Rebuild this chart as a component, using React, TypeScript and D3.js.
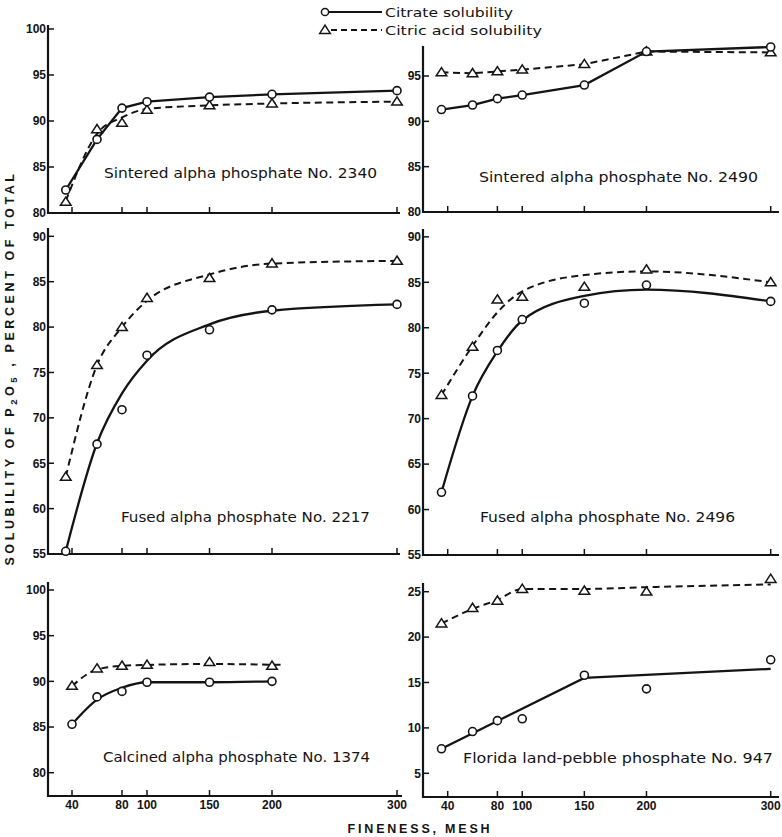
import React from "react";
import * as d3 from "d3";

// ---------- DATA ----------
const MESH = [35, 60, 80, 100, 150, 200, 300];
const MESH_CALCINED = [40, 60, 80, 100, 150, 200];
const MESH_CALCINED_FIT = [40, 60, 80, 100, 150, 210];
const X_TICKS = [40, 80, 100, 150, 200, 300];

// Sintered alpha phosphate No. 2340
const s2340Citrate = [82.5, 88.0, 91.4, 92.1, 92.6, 92.9, 93.3];
const s2340Citric = [81.2, 89.1, 89.8, 91.2, 91.7, 91.9, 92.1];
const s2340CitricFit = [81.3, 88.6, 90.4, 91.3, 91.7, 91.9, 92.1];

// Sintered alpha phosphate No. 2490
const s2490Citrate = [91.3, 91.8, 92.5, 92.9, 94.0, 97.7, 98.2];
const s2490Citric = [95.4, 95.3, 95.5, 95.7, 96.3, 97.7, 97.6];

// Fused alpha phosphate No. 2217
const f2217Citrate = [55.3, 67.1, 70.9, 76.9, 79.7, 81.9, 82.5];
const f2217CitrateFit = [55.3, 67.2, 72.7, 76.3, 80.3, 81.8, 82.5];
const f2217Citric = [63.5, 75.8, 80.0, 83.2, 85.4, 87.0, 87.3];
const f2217CitricFit = [63.5, 75.8, 80.0, 82.9, 85.8, 87.0, 87.3];

// Fused alpha phosphate No. 2496
const f2496Citrate = [61.9, 72.5, 77.5, 80.9, 82.7, 84.7, 82.9];
const f2496CitrateFit = [61.9, 72.5, 77.4, 80.8, 83.5, 84.2, 82.9];
const f2496Citric = [72.6, 77.9, 83.1, 83.4, 84.5, 86.4, 85.0];
const f2496CitricFit = [72.6, 78.0, 81.7, 84.0, 85.8, 86.2, 85.0];

// Calcined alpha phosphate No. 1374
const c1374Citrate = [85.3, 88.3, 88.9, 89.9, 89.9, 90.0];
const c1374CitrateFit = [85.3, 88.0, 89.3, 89.9, 89.9, 90.0];
const c1374Citric = [89.5, 91.4, 91.7, 91.8, 92.1, 91.7];
const c1374CitricFit = [89.5, 91.3, 91.7, 91.8, 91.9, 91.8];

// Florida land-pebble phosphate No. 947
const fl947Citrate = [7.7, 9.6, 10.8, 11.0, 15.8, 14.3, 17.5];
const fl947CitrateFitMesh = [35, 150, 300];
const fl947CitrateFit = [7.7, 15.5, 16.5];
const fl947Citric = [21.5, 23.2, 24.0, 25.3, 25.1, 25.0, 26.4];
const fl947CitricFit = [21.5, 23.1, 24.1, 25.3, 25.3, 25.5, 25.8];

// ---------- LAYOUT ----------
type Series = { mesh: number[]; vals: number[] };
type Panel = {
  label: string;
  labelX: number;
  labelY: number;
  labelW: number;
  axisX: number;
  xEnd: number;
  yTop: number;
  yBottom: number;
  xRange: [number, number];
  yDomain: [number, number];
  yRange: [number, number];
  yTicks: number[];
  showXLabels: boolean;
  citratePts: Series;
  citrateLine: Series;
  citrateCurve: d3.CurveFactory;
  citricPts: Series;
  citricLine: Series;
  citricCurve: d3.CurveFactory;
};

const LEFT_X: [number, number] = [72, 397];
const RIGHT_X: [number, number] = [447.7, 770.7];

const panels: Panel[] = [
  {
    label: "Sintered alpha phosphate No. 2340",
    labelX: 104, labelY: 178, labelW: 273,
    axisX: 48, xEnd: 400, yTop: 25, yBottom: 213,
    xRange: LEFT_X, yDomain: [80, 100], yRange: [213, 29],
    yTicks: [80, 85, 90, 95, 100], showXLabels: false,
    citratePts: { mesh: MESH, vals: s2340Citrate },
    citrateLine: { mesh: MESH, vals: s2340Citrate },
    citrateCurve: d3.curveLinear,
    citricPts: { mesh: MESH, vals: s2340Citric },
    citricLine: { mesh: MESH, vals: s2340CitricFit },
    citricCurve: d3.curveMonotoneX,
  },
  {
    label: "Sintered alpha phosphate No. 2490",
    labelX: 479, labelY: 182, labelW: 279,
    axisX: 423, xEnd: 779, yTop: 46, yBottom: 212,
    xRange: RIGHT_X, yDomain: [80, 95], yRange: [212, 76],
    yTicks: [80, 85, 90, 95], showXLabels: false,
    citratePts: { mesh: MESH, vals: s2490Citrate },
    citrateLine: { mesh: MESH, vals: s2490Citrate },
    citrateCurve: d3.curveLinear,
    citricPts: { mesh: MESH, vals: s2490Citric },
    citricLine: { mesh: MESH, vals: s2490Citric },
    citricCurve: d3.curveLinear,
  },
  {
    label: "Fused alpha phosphate No. 2217",
    labelX: 121, labelY: 522, labelW: 249,
    axisX: 48, xEnd: 400, yTop: 228, yBottom: 554,
    xRange: LEFT_X, yDomain: [55, 85], yRange: [554, 281.7],
    yTicks: [55, 60, 65, 70, 75, 80, 85, 90], showXLabels: false,
    citratePts: { mesh: MESH, vals: f2217Citrate },
    citrateLine: { mesh: MESH, vals: f2217CitrateFit },
    citrateCurve: d3.curveMonotoneX,
    citricPts: { mesh: MESH, vals: f2217Citric },
    citricLine: { mesh: MESH, vals: f2217CitricFit },
    citricCurve: d3.curveMonotoneX,
  },
  {
    label: "Fused alpha phosphate No. 2496",
    labelX: 480, labelY: 522, labelW: 255,
    axisX: 423, xEnd: 779, yTop: 229, yBottom: 555,
    xRange: RIGHT_X, yDomain: [55, 85], yRange: [555, 282.3],
    yTicks: [55, 60, 65, 70, 75, 80, 85, 90], showXLabels: false,
    citratePts: { mesh: MESH, vals: f2496Citrate },
    citrateLine: { mesh: MESH, vals: f2496CitrateFit },
    citrateCurve: d3.curveMonotoneX,
    citricPts: { mesh: MESH, vals: f2496Citric },
    citricLine: { mesh: MESH, vals: f2496CitricFit },
    citricCurve: d3.curveMonotoneX,
  },
  {
    label: "Calcined alpha phosphate No. 1374",
    labelX: 103, labelY: 762, labelW: 267,
    axisX: 48, xEnd: 402, yTop: 582, yBottom: 796,
    xRange: LEFT_X, yDomain: [80, 100], yRange: [772.7, 590],
    yTicks: [80, 85, 90, 95, 100], showXLabels: true,
    citratePts: { mesh: MESH_CALCINED, vals: c1374Citrate },
    citrateLine: { mesh: MESH_CALCINED, vals: c1374CitrateFit },
    citrateCurve: d3.curveMonotoneX,
    citricPts: { mesh: MESH_CALCINED, vals: c1374Citric },
    citricLine: { mesh: MESH_CALCINED_FIT, vals: c1374CitricFit },
    citricCurve: d3.curveMonotoneX,
  },
  {
    label: "Florida land-pebble phosphate No. 947",
    labelX: 463, labelY: 763, labelW: 310,
    axisX: 423, xEnd: 779, yTop: 583, yBottom: 797,
    xRange: RIGHT_X, yDomain: [5, 25], yRange: [773.3, 591.7],
    yTicks: [5, 10, 15, 20, 25], showXLabels: true,
    citratePts: { mesh: MESH, vals: fl947Citrate },
    citrateLine: { mesh: fl947CitrateFitMesh, vals: fl947CitrateFit },
    citrateCurve: d3.curveLinear,
    citricPts: { mesh: MESH, vals: fl947Citric },
    citricLine: { mesh: MESH, vals: fl947CitricFit },
    citricCurve: d3.curveMonotoneX,
  },
];

const INK = "#141414";
const TICK_FONT = "'Liberation Sans', Arial, sans-serif";
const LABEL_FONT = "'DejaVu Sans', 'Open Sans', sans-serif";

const triPath = "M0,-4.8L5.3,3.4L-5.3,3.4Z";

function PanelView({ p }: { p: Panel }) {
  const x = d3.scaleLinear().domain([40, 300]).range(p.xRange);
  const y = d3.scaleLinear().domain(p.yDomain).range(p.yRange);
  const mk = (s: Series, curve: d3.CurveFactory) =>
    d3
      .line<number>()
      .x((_, i) => x(s.mesh[i]))
      .y((v) => y(v))
      .curve(curve)(s.vals) || "";

  return (
    <g>
      {/* axes */}
      <line x1={p.axisX} x2={p.axisX} y1={p.yTop} y2={p.yBottom + 1} stroke={INK} strokeWidth={2.2} />
      <line x1={p.axisX - 1} x2={p.xEnd} y1={p.yBottom} y2={p.yBottom} stroke={INK} strokeWidth={2.2} />
      {p.yTicks.map((t) => (
        <g key={"y" + t}>
          {y(t) < p.yBottom - 2 && (
            <line x1={p.axisX} x2={p.axisX + 6} y1={y(t)} y2={y(t)} stroke={INK} strokeWidth={1.5} />
          )}
          <text
            x={p.axisX - 2}
            y={y(t)}
            dy="0.36em"
            textAnchor="end"
            fontFamily={TICK_FONT}
            fontWeight="bold"
            fontSize={12}
            fill={INK}
          >
            {t}
          </text>
        </g>
      ))}
      {X_TICKS.map((t) => (
        <g key={"x" + t}>
          <line x1={x(t)} x2={x(t)} y1={p.yBottom} y2={p.yBottom - 6} stroke={INK} strokeWidth={1.5} />
          {p.showXLabels && (
            <text
              x={x(t)}
              y={p.yBottom + 12.5}
              textAnchor="middle"
              fontFamily={TICK_FONT}
              fontWeight="bold"
              fontSize={12}
              fill={INK}
            >
              {t}
            </text>
          )}
        </g>
      ))}
      {/* lines */}
      <path d={mk(p.citricLine, p.citricCurve)} fill="none" stroke={INK} strokeWidth={2} strokeDasharray="7,4.5" />
      <path d={mk(p.citrateLine, p.citrateCurve)} fill="none" stroke={INK} strokeWidth={2.3} />
      {/* markers */}
      {p.citricPts.vals.map((v, i) => (
        <path
          key={"t" + i}
          d={triPath}
          transform={`translate(${x(p.citricPts.mesh[i])},${y(v)})`}
          fill="white"
          stroke={INK}
          strokeWidth={1.5}
        />
      ))}
      {p.citratePts.vals.map((v, i) => (
        <circle key={"c" + i} cx={x(p.citratePts.mesh[i])} cy={y(v)} r={4} fill="white" stroke={INK} strokeWidth={1.6} />
      ))}
      <text
        x={p.labelX}
        y={p.labelY}
        fontFamily={LABEL_FONT}
        fontSize={14}
        fill={INK}
        textLength={p.labelW}
        lengthAdjust="spacingAndGlyphs"
      >
        {p.label}
      </text>
    </g>
  );
}

export default function App() {
  return (
    <svg
      width={782}
      height={837}
      viewBox="0 0 782 837"
      style={{ position: "absolute", left: 0, top: 0, background: "white" }}
    >
      <rect width={782} height={837} fill="white" />
      {/* legend */}
      <g>
        <line x1={329} x2={382} y1={12} y2={12} stroke={INK} strokeWidth={2} />
        <circle cx={325} cy={12} r={3.6} fill="white" stroke={INK} strokeWidth={1.5} />
        <text x={385} y={16.5} fontFamily={LABEL_FONT} fontSize={13} fill={INK} textLength={128} lengthAdjust="spacingAndGlyphs">
          Citrate solubility
        </text>
        <line x1={331} x2={382} y1={30} y2={30} stroke={INK} strokeWidth={2} strokeDasharray="6,4" />
        <path d={triPath} transform="translate(325,30)" fill="white" stroke={INK} strokeWidth={1.5} />
        <text x={385} y={35} fontFamily={LABEL_FONT} fontSize={13} fill={INK} textLength={157} lengthAdjust="spacingAndGlyphs">
          Citric acid solubility
        </text>
      </g>
      {panels.map((p, i) => (
        <PanelView key={i} p={p} />
      ))}
      {/* axis titles */}
      <text
        transform="translate(14,368) rotate(-90)"
        textAnchor="middle"
        fontFamily={TICK_FONT}
        fontWeight="bold"
        fontSize={12.5}
        fill={INK}
        letterSpacing={3.6}
      >
        SOLUBILITY OF P<tspan fontSize={9.5} dy={3}>2</tspan>
        <tspan dy={-3}>O</tspan>
        <tspan fontSize={9.5} dy={3}>5</tspan>
        <tspan dy={-3}> ,  PERCENT OF TOTAL</tspan>
      </text>
      <text
        x={420}
        y={833}
        textAnchor="middle"
        fontFamily={TICK_FONT}
        fontWeight="bold"
        fontSize={12.5}
        letterSpacing={2.8}
        fill={INK}
      >
        FINENESS, MESH
      </text>
    </svg>
  );
}
